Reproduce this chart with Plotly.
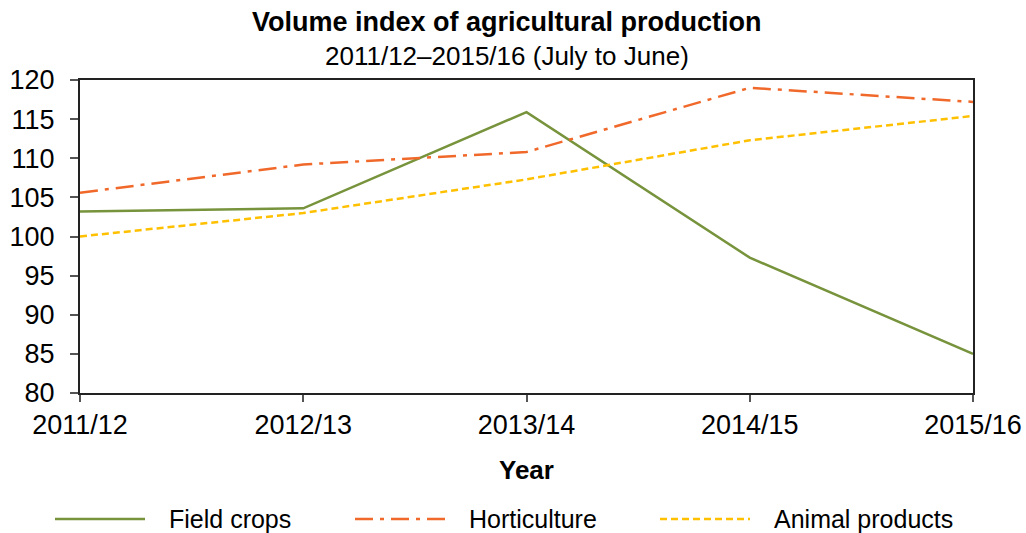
import plotly.graph_objects as go

years = ["2011/12", "2012/13", "2013/14", "2014/15", "2015/16"]
field_crops = [103.2, 103.6, 115.9, 97.3, 85.0]
horticulture = [105.6, 109.2, 110.8, 119.0, 117.2]
animal_products = [100.0, 103.0, 107.3, 112.3, 115.4]

y_ticks = [80, 85, 90, 95, 100, 105, 110, 115, 120]

FONT = "Liberation Sans, Arial, sans-serif"
x = list(range(len(years)))

series = [
    ("Field crops", field_crops, "#77933C", "solid"),
    ("Horticulture", horticulture, "#F0692A", "18px,7px,4px,7px"),
    ("Animal products", animal_products, "#FFC000", "7px,4px"),
]

fig = go.Figure()
for name, values, color, dash in series:
    fig.add_trace(go.Scatter(
        x=x, y=values, name=name, mode="lines",
        line=dict(color=color, width=2.5, dash=dash)))

# Legend row below the axis title: line sample followed by its label
shapes = []
annotations = [
    dict(text="<b>Volume index of agricultural production</b>", xref="paper", yref="paper",
         x=0.478, y=1, yshift=58, yanchor="middle", showarrow=False, font=dict(size=27)),
    dict(text="2011/12\u20132015/16 (July to June)", xref="paper", yref="paper",
         x=0.478, y=1, yshift=24, yanchor="middle", showarrow=False, font=dict(size=26)),
    dict(text="<b>Year</b>", xref="paper", yref="paper",
         x=0.5, y=0, yshift=-77, yanchor="middle", showarrow=False, font=dict(size=26)),
]
legend_x0 = [55, 355, 660]   # pixel offsets of each legend entry
plot_left, plot_w = 80, 893
legend_y_px = 519
plot_bottom, plot_h = 393, 313
for (name, _, color, dash), px0 in zip(series, legend_x0):
    x0 = (px0 - plot_left) / plot_w
    x1 = (px0 + 90 - plot_left) / plot_w
    yl = (plot_bottom - legend_y_px) / plot_h
    shapes.append(dict(type="line", xref="paper", yref="paper",
                       x0=x0, x1=x1, y0=yl, y1=yl,
                       line=dict(color=color, width=2.5, dash=dash)))
    annotations.append(dict(text=name, xref="paper", yref="paper",
                            x=(px0 + 112 - plot_left) / plot_w, y=yl,
                            xanchor="left", yanchor="middle", showarrow=False,
                            font=dict(size=25)))

fig.update_layout(
    width=1026, height=533,
    margin=dict(l=80, r=53, t=80, b=140),
    paper_bgcolor="white", plot_bgcolor="white",
    font=dict(family=FONT, size=27, color="#000"),
    showlegend=False,
    shapes=shapes,
    annotations=annotations,
)

fig.update_xaxes(
    range=[0, len(years) - 1], tickvals=x, ticktext=years,
    showgrid=False, zeroline=False, automargin=False,
    showline=True, linecolor="#222", linewidth=2, mirror=True,
    ticks="outside", ticklen=7, tickcolor="#555", tickwidth=1.5,
    tickfont=dict(size=27),
)
fig.update_yaxes(
    range=[80, 120], tickvals=y_ticks,
    showgrid=False, zeroline=False, automargin=False,
    showline=True, linecolor="#222", linewidth=2, mirror=True,
    ticks="outside", ticklen=8, tickcolor="#555", tickwidth=1.5,
    ticklabelstandoff=10,
    tickfont=dict(size=27),
)

fig.write_html("out.html")
